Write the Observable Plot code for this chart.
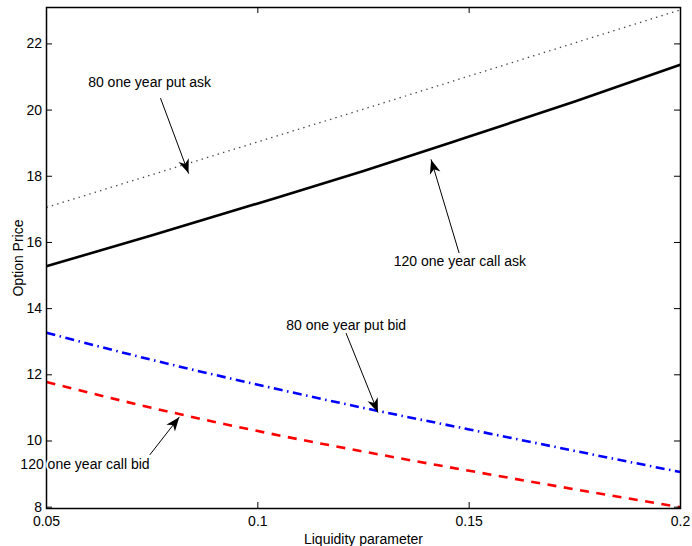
<!DOCTYPE html>
<html>
<head>
<meta charset="utf-8">
<script src="https://cdn.jsdelivr.net/npm/d3@7"></script>
<script src="https://cdn.jsdelivr.net/npm/@observablehq/plot@0.6"></script>
<style>
  html, body { margin: 0; padding: 0; background: #fff; }
  #chart svg { display: block; }
</style>
</head>
<body>
<div id="chart"></div>
<script>
// Liquidity parameter (x) and option prices for the four quotes
const liquidity = [0.05, 0.075, 0.1, 0.125, 0.15, 0.175, 0.2];
const putAsk80 = [17.06, 18.05, 19.04, 20.03, 21.03, 22.03, 23.03];
const callAsk120 = [15.28, 16.22, 17.18, 18.16, 19.2, 20.26, 21.37];
const putBid80 = [13.27, 12.45, 11.7, 11.0, 10.35, 9.7, 9.06];
const callBid120 = [11.78, 11.0, 10.3, 9.68, 9.1, 8.54, 8.0];

const xTicks = [0.05, 0.1, 0.15, 0.2];
const yTicks = [8, 10, 12, 14, 16, 18, 20, 22];

// Annotation labels and the arrows pointing at each curve
const labelText = ["80 one year put ask", "120 one year call ask", "80 one year put bid", "120 one year call bid"];
const labelX = [0.0744, 0.1478, 0.1209, 0.0591];
const labelY = [20.83, 15.42, 13.49, 9.30];
const arrowX1 = [0.0770, 0.1476, 0.1209, 0.0745];
const arrowY1 = [20.35, 15.69, 13.25, 9.59];
const arrowX2 = [0.0836, 0.1410, 0.1284, 0.0814];
const arrowY2 = [18.09, 18.50, 10.87, 10.72];

const W = 692, H = 546;
const mL = 46, mR = 12, mT = 7, mB = 38;
const innerH = H - mT - mB, innerW = W - mL - mR;
const font = "Liberation Sans, Arial, Helvetica, sans-serif";

const series = [
  {name: "putAsk", values: putAsk80, stroke: "#444", width: 1.3, dash: "1.4 4.2"},
  {name: "callAsk", values: callAsk120, stroke: "#000", width: 2.6, dash: null},
  {name: "putBid", values: putBid80, stroke: "#0000ff", width: 2.6, dash: "9 4.5 1.5 4.5"},
  {name: "callBid", values: callBid120, stroke: "#ff0000", width: 2.6, dash: "9 7.5"}
];

const lineMarks = series.map(s => Plot.line(
  liquidity.map((x, i) => ({x, y: s.values[i]})),
  {x: "x", y: "y", stroke: s.stroke, strokeWidth: s.width, strokeDasharray: s.dash,
   curve: "monotone-x", strokeLinecap: "butt"}
));

const labels = labelText.map((t, i) => ({t, x: labelX[i], y: labelY[i]}));
const arrows = arrowX1.map((x1, i) => ({x1, y1: arrowY1[i], x2: arrowX2[i], y2: arrowY2[i]}));

// Filled, notched arrowheads drawn on top of the arrow shafts
function arrowHeads(index, scales, values, dimensions, context, next) {
  const g = next(index, scales, values, dimensions, context);
  const {x1: X1, y1: Y1, x2: X2, y2: Y2} = values;
  const L = 14, hw = 5.5, notch = 10;
  for (const i of index) {
    const a = Math.atan2(Y2[i] - Y1[i], X2[i] - X1[i]);
    const ux = Math.cos(a), uy = Math.sin(a), px = -uy, py = ux;
    const tx = X2[i], ty = Y2[i];
    const bx = tx - ux * L, by = ty - uy * L;
    const nx = tx - ux * notch, ny = ty - uy * notch;
    const d = `M${tx},${ty}L${bx + px * hw},${by + py * hw}L${nx},${ny}L${bx - px * hw},${by - py * hw}Z`;
    d3.select(g).append("path").attr("d", d).attr("fill", "#000").attr("stroke", "none");
  }
  return g;
}

const plot = Plot.plot({
  width: W,
  height: H,
  marginLeft: mL,
  marginRight: mR,
  marginTop: mT,
  marginBottom: mB,
  style: {fontFamily: font, fontSize: "14px", color: "#000", background: "#fff", overflow: "visible"},
  x: {domain: [0.05, 0.2], axis: null},
  y: {domain: [7.96, 23.1], axis: null},
  marks: [
    ...lineMarks,
    // inward tick marks on all four sides
    Plot.tickX(xTicks, {x: d => d, insetTop: innerH - 6, stroke: "#000", strokeWidth: 1}),
    Plot.tickX(xTicks, {x: d => d, insetBottom: innerH - 6, stroke: "#000", strokeWidth: 1}),
    Plot.tickY(yTicks, {y: d => d, insetRight: innerW - 6, stroke: "#000", strokeWidth: 1}),
    Plot.tickY(yTicks, {y: d => d, insetLeft: innerW - 6, stroke: "#000", strokeWidth: 1}),
    Plot.frame({stroke: "#000", strokeWidth: 1.5}),
    Plot.axisX({ticks: xTicks, tickSize: 0, tickPadding: 8, fontSize: 14, label: null, tickFormat: d => String(d)}),
    Plot.axisY({ticks: yTicks, tickSize: 0, tickPadding: 4.5, fontSize: 14, label: null, tickFormat: d => String(d)}),
    Plot.text(["Liquidity parameter"], {frameAnchor: "bottom", dy: 35, lineAnchor: "bottom", textAnchor: "middle", fontSize: 14, fill: "#000"}),
    Plot.text(["Option Price"], {frameAnchor: "left", dx: -24, rotate: -90, lineAnchor: "bottom", textAnchor: "middle", fontSize: 14, fill: "#000"}),
    Plot.arrow(arrows, {x1: "x1", y1: "y1", x2: "x2", y2: "y2", headLength: 0, stroke: "#000", strokeWidth: 1, render: arrowHeads}),
    Plot.text(labels, {x: "x", y: "y", text: "t", fontSize: 14, fill: "#000", stroke: "#fff", strokeWidth: 4, lineAnchor: "middle", clip: false})
  ]
});

document.getElementById("chart").appendChild(plot);
</script>
</body>
</html>
